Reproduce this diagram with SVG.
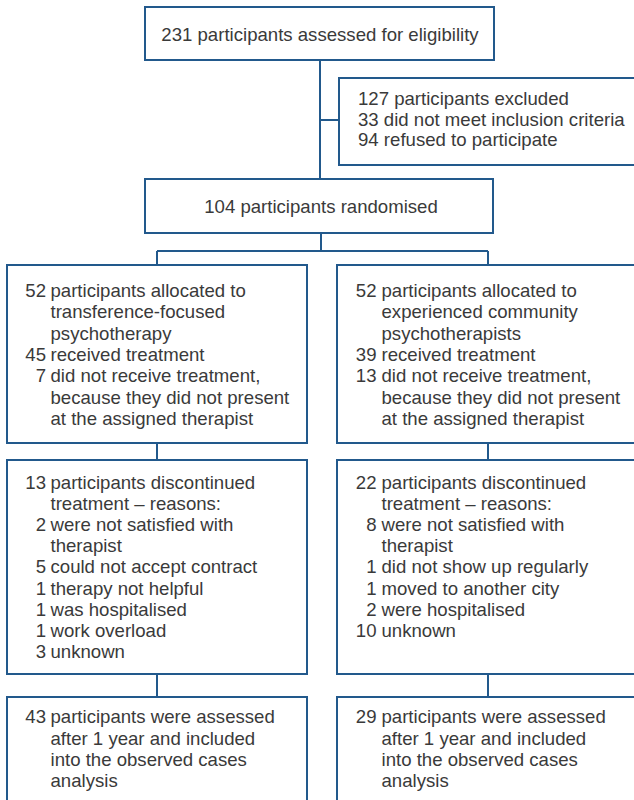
<svg xmlns="http://www.w3.org/2000/svg" width="634" height="800" viewBox="0 0 634 800">
<style>
.box{fill:#fff;stroke:#22598c;stroke-width:2}
.ln{fill:none;stroke:#22598c;stroke-width:2}
text{font-family:"Liberation Sans",Arial,sans-serif;font-size:18.6px;fill:#3a3a3a}
.n{text-anchor:end}
.c{text-anchor:middle}
</style>
<rect width="634" height="800" fill="#fff"/>
<g id="connectors">
<path class="ln" d="M320,60V179M320,120H339"/>
<path class="ln" d="M321,233V251M157,251H488M157,251V265M488,251V265"/>
<path class="ln" d="M157,443V460M488,443V460"/>
<path class="ln" d="M157,674V697M488,674V697"/>
</g>
<g id="assessed">
<rect class="box" x="145" y="7" width="349" height="53"/>
<text class="c" x="320" y="41">231 participants assessed for eligibility</text>
</g>
<g id="excluded">
<rect class="box" x="339" y="78" width="310" height="87"/>
<text x="358" y="105">127 participants excluded</text>
<text x="358" y="125.5">33 did not meet inclusion criteria</text>
<text x="358" y="146">94 refused to participate</text>
</g>
<g id="randomised">
<rect class="box" x="145" y="179" width="348" height="54"/>
<text class="c" x="321" y="213">104 participants randomised</text>
</g>
<g id="allocTFP">
<rect class="box" x="7" y="265" width="300" height="178"/>
<text class="n" x="46" y="297">52</text><text x="50.5" y="297">participants allocated to</text>
<text x="50.5" y="318.3">transference-focused</text>
<text x="50.5" y="339.6">psychotherapy</text>
<text class="n" x="46" y="360.9">45</text><text x="50.5" y="360.9">received treatment</text>
<text class="n" x="46" y="382.2">7</text><text x="50.5" y="382.2">did not receive treatment,</text>
<text x="50.5" y="403.5">because they did not present</text>
<text x="50.5" y="424.8">at the assigned therapist</text>
</g>
<g id="allocECP">
<rect class="box" x="337" y="265" width="310" height="178"/>
<text class="n" x="376.5" y="297">52</text><text x="381.5" y="297">participants allocated to</text>
<text x="381.5" y="318.3">experienced community</text>
<text x="381.5" y="339.6">psychotherapists</text>
<text class="n" x="376.5" y="360.9">39</text><text x="381.5" y="360.9">received treatment</text>
<text class="n" x="376.5" y="382.2">13</text><text x="381.5" y="382.2">did not receive treatment,</text>
<text x="381.5" y="403.5">because they did not present</text>
<text x="381.5" y="424.8">at the assigned therapist</text>
</g>
<g id="discTFP">
<rect class="box" x="7" y="460" width="300" height="214"/>
<text class="n" x="46" y="489">13</text><text x="50.5" y="489">participants discontinued</text>
<text x="50.5" y="510.1">treatment – reasons:</text>
<text class="n" x="46" y="531.2">2</text><text x="50.5" y="531.2">were not satisfied with</text>
<text x="50.5" y="552.3">therapist</text>
<text class="n" x="46" y="573.4">5</text><text x="50.5" y="573.4">could not accept contract</text>
<text class="n" x="46" y="594.5">1</text><text x="50.5" y="594.5">therapy not helpful</text>
<text class="n" x="46" y="615.6">1</text><text x="50.5" y="615.6">was hospitalised</text>
<text class="n" x="46" y="636.7">1</text><text x="50.5" y="636.7">work overload</text>
<text class="n" x="46" y="657.8">3</text><text x="50.5" y="657.8">unknown</text>
</g>
<g id="discECP">
<rect class="box" x="337" y="460" width="310" height="214"/>
<text class="n" x="376.5" y="489">22</text><text x="381.5" y="489">participants discontinued</text>
<text x="381.5" y="510.1">treatment – reasons:</text>
<text class="n" x="376.5" y="531.2">8</text><text x="381.5" y="531.2">were not satisfied with</text>
<text x="381.5" y="552.3">therapist</text>
<text class="n" x="376.5" y="573.4">1</text><text x="381.5" y="573.4">did not show up regularly</text>
<text class="n" x="376.5" y="594.5">1</text><text x="381.5" y="594.5">moved to another city</text>
<text class="n" x="376.5" y="615.6">2</text><text x="381.5" y="615.6">were hospitalised</text>
<text class="n" x="376.5" y="636.7">10</text><text x="381.5" y="636.7">unknown</text>
</g>
<g id="analysedTFP">
<rect class="box" x="7" y="697" width="300" height="120"/>
<text class="n" x="46" y="723.3">43</text><text x="50.5" y="723.3">participants were assessed</text>
<text x="50.5" y="744.5">after 1 year and included</text>
<text x="50.5" y="765.7">into the observed cases</text>
<text x="50.5" y="786.9">analysis</text>
</g>
<g id="analysedECP">
<rect class="box" x="337" y="697" width="310" height="120"/>
<text class="n" x="376.5" y="723.3">29</text><text x="381.5" y="723.3">participants were assessed</text>
<text x="381.5" y="744.5">after 1 year and included</text>
<text x="381.5" y="765.7">into the observed cases</text>
<text x="381.5" y="786.9">analysis</text>
</g>
</svg>
